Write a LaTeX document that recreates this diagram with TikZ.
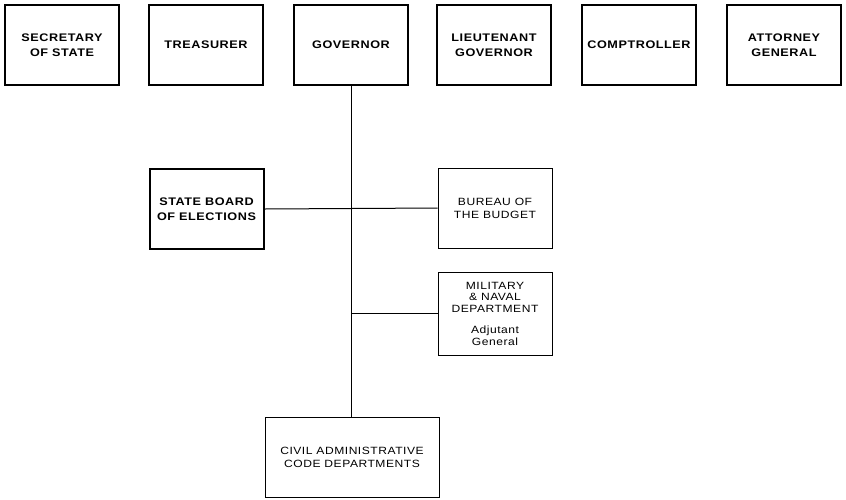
\documentclass[tikz,border=0pt]{standalone}
\usepackage{fontspec}
\setmainfont{Liberation Sans}[FakeStretch=1.15, LetterSpace=5]
\usepackage{tikz}
\usetikzlibrary{positioning}

\begin{document}
\begin{tikzpicture}[x=1pt, y=-1pt,
    office/.style={draw, line width=2pt, minimum width=114pt, minimum height=80pt,
        align=center, font=\fontsize{11}{15}\selectfont\bfseries},
    agency/.style={draw, line width=1pt, minimum width=114pt, minimum height=80pt,
        align=center, font=\fontsize{10.5}{13}\selectfont},
    link/.style={line width=1pt}]
    \useasboundingbox (0,0) rectangle (846,499);

    % elected officers
    \node[office] (sec) at (62,45)  {SECRETARY\\OF STATE};
    \node[office] (tre) at (206,45) {TREASURER};
    \node[office] (gov) at (351,45) {GOVERNOR};
    \node[office] (ltg) at (494,45) {LIEUTENANT\\GOVERNOR};
    \node[office] (com) at (639,45) {COMPTROLLER};
    \node[office] (att) at (784,45) {ATTORNEY\\GENERAL};

    % units under the governor
    \node[office] (elec) at (206.5,209) {STATE BOARD\\OF ELECTIONS};
    \node[agency] (bud) at (495,208) {BUREAU OF\\THE BUDGET};
    \node[agency, minimum height=83pt, font=\fontsize{10.5}{11.5}\selectfont]
        (mil) at (495,313.5) {MILITARY\\\& NAVAL\\DEPARTMENT\\[10pt]Adjutant\\General};
    \node[agency, minimum width=174pt] (civ) at (352,457)
        {CIVIL ADMINISTRATIVE\\CODE DEPARTMENTS};

    \coordinate (milj) at (gov.south |- mil.west);

    \draw[link] (gov.south) -- (gov.south |- civ.north);
    \draw[link] (elec.east) -- (bud.west);
    \draw[link] (milj) -- (mil.west);
\end{tikzpicture}
\end{document}
